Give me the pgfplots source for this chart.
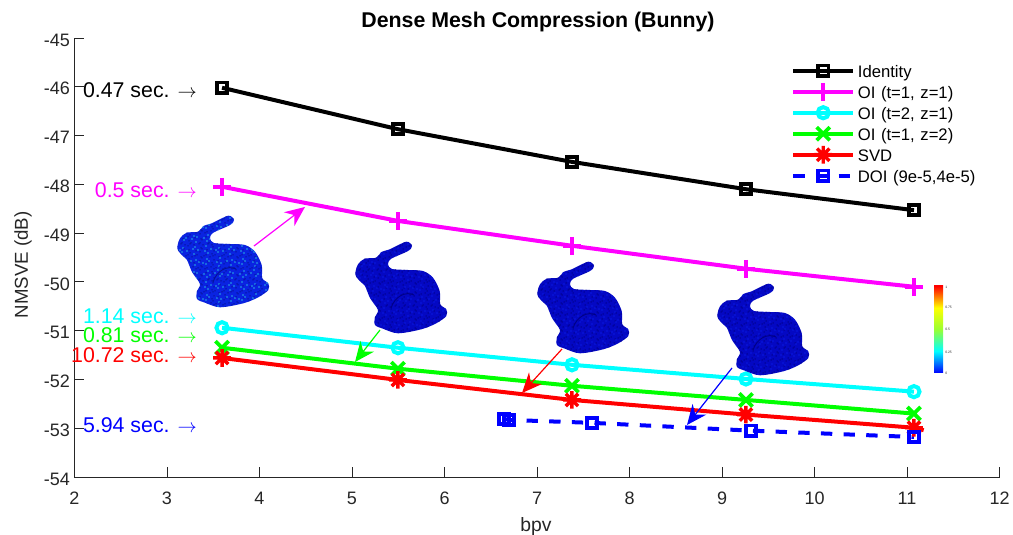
\documentclass[border=0pt]{standalone}
\usepackage{fontspec}
\setmainfont{Liberation Sans}
\usepackage{pgfplots}
\pgfplotsset{compat=1.18}
\usetikzlibrary{arrows.meta}

\definecolor{axisgrey}{rgb}{0.15,0.15,0.15}
\definecolor{mygreen}{rgb}{0,1,0}
\definecolor{mycyan}{rgb}{0,1,1}
\definecolor{mymagenta}{rgb}{1,0,1}
\definecolor{bunnyA}{RGB}{10,35,225}
\definecolor{darkA}{RGB}{6,18,150}
\definecolor{speckA}{RGB}{40,175,225}
\definecolor{bunnyB}{RGB}{4,8,195}
\definecolor{darkB}{RGB}{0,0,135}
\definecolor{speckB}{RGB}{10,25,225}

\pgfdeclareverticalshading{jetbar}{100bp}{
  color(0bp)=(blue); color(25bp)=(blue); color(37.5bp)=(cyan);
  color(50bp)=(green!50!yellow!80!white); color(62.5bp)=(yellow); color(75bp)=(red); color(100bp)=(red)}

% matlab style * marker
\pgfdeclareplotmark{star8}{%
  \pgfpathmoveto{\pgfqpoint{0pt}{\pgfplotmarksize}}\pgfpathlineto{\pgfqpoint{0pt}{-\pgfplotmarksize}}
  \pgfpathmoveto{\pgfqpoint{\pgfplotmarksize}{0pt}}\pgfpathlineto{\pgfqpoint{-\pgfplotmarksize}{0pt}}
  \pgfpathmoveto{\pgfqpoint{.7\pgfplotmarksize}{.7\pgfplotmarksize}}\pgfpathlineto{\pgfqpoint{-.7\pgfplotmarksize}{-.7\pgfplotmarksize}}
  \pgfpathmoveto{\pgfqpoint{.7\pgfplotmarksize}{-.7\pgfplotmarksize}}\pgfpathlineto{\pgfqpoint{-.7\pgfplotmarksize}{.7\pgfplotmarksize}}
  \pgfusepathqstroke}

% outline traced from the first bunny, in pixels
\newcommand{\bunnypath}{plot[smooth cycle,tension=.5] coordinates {
  (58.3,5.7) (64,10) (60,15) (43.3,22.7) (40,28.3) (44,33) (60,34) (75,35) (85,41.7)
  (91.7,55) (92.3,68.3) (98.3,73.3) (98.3,80) (88.3,87.3) (73.3,93.3) (50,97.3) (35,92.7)
  (27,89) (27,81) (30,74) (22,62) (17,50) (11.7,45) (7.3,38.3) (10,28.3)
  (16.7,22.7) (28.3,21.7) (33.3,16) (41.7,13.3)}}

% x, y of origin (page pixels), body, dark speckle, light speckle
\newcommand{\bunny}[5]{%
  \begin{scope}[shift={(#1,#2)}]
    \fill[#3] \bunnypath;
    \begin{scope}
      \clip \bunnypath;
      \foreach \i in {2,...,33}{\foreach \j in {1,...,33}{
        \pgfmathtruncatemacro{\sx}{\i*3+mod(\i*\i+7*\j,3)}
        \pgfmathtruncatemacro{\sy}{\j*3+mod(\j*\j+5*\i,3)}
        \pgfmathtruncatemacro{\pick}{mod(\i*\j+\i+2*\j,4)}
        \ifnum\pick=0 \fill[#5] (\sx,\sy) circle[radius=.85];\fi
        \ifnum\pick=2 \fill[#4] (\sx,\sy) circle[radius=.75];\fi
      }}
      \draw[#4,line width=.7pt] (43,72) .. controls (47,60) and (58,55) .. (66,59);
    \end{scope}
  \end{scope}}

\newcommand{\lgap}{\hspace*{4.5pt}}

\begin{document}
\begin{tikzpicture}
\path[use as bounding box] (-55.875pt,-43.5pt) rectangle (703.875pt,357.75pt);
\begin{axis}[
    at={(0pt,0pt)}, anchor=south west,
    scale only axis,
    width=693.75pt, height=329.25pt,
    xmin=2, xmax=12, ymin=-54, ymax=-45,
    axis x line=bottom, axis y line=left,
    axis line style={-,axisgrey,line width=.6pt},
    tick style={axisgrey,line width=.6pt},
    tick align=inside,
    major tick length=7.5pt,
    xtick={2,3,4,5,6,7,8,9,10,11,12},
    ytick={-54,-53,-52,-51,-50,-49,-48,-47,-46,-45},
    yticklabels={-54,-53,-52,-51,-50,-49,-48,-47,-46,-45},
    xticklabels={2,3,4,5,6,7,8,9,10,11,12},
    tick label style={font=\fontsize{13.5}{15}\selectfont,text=axisgrey},
    xticklabel style={yshift=-7.5pt},
    yticklabel style={yshift=-1.5pt},
    clip=false,
    legend style={draw=none,fill=none,
      font=\fontsize{12.5}{14}\selectfont,row sep=0pt,
      at={(rel axis cs:0.7724,0.953)},anchor=north west,
      nodes={inner sep=0pt,xshift=4.5pt,text height=11.9pt,text depth=3.85pt,text width=130pt,align=left}},
    legend cell align=left,
    legend image code/.code={
      \path[draw=none,fill=none] (0pt,0pt) rectangle (44pt,.1pt);
      \draw[overlay,yshift=1pt,mark repeat=2,mark phase=2,#1] plot coordinates {(0pt,0pt) (22.5pt,0pt) (45pt,0pt)};},
]
\addplot[black,line width=3pt,mark=square,mark size=3.8pt,mark options={line width=2.7pt}] coordinates {
  (3.595,-46.02) (5.497,-46.87) (7.378,-47.54) (9.259,-48.10) (11.075,-48.53)};
\addlegendentry{\lgap Identity}
\addplot[mymagenta,line width=3pt,mark=+,mark size=6.6pt,mark options={line width=3pt}] coordinates {
  (3.595,-48.05) (5.497,-48.75) (7.378,-49.26) (9.259,-49.73) (11.075,-50.10)};
\addlegendentry{\lgap OI (t=1, z=1)}
\addplot[mycyan,line width=3pt,mark=o,mark size=4.2pt,mark options={line width=3pt}] coordinates {
  (3.595,-50.94) (5.497,-51.35) (7.378,-51.70) (9.259,-51.99) (11.075,-52.25)};
\addlegendentry{\lgap OI (t=2, z=1)}
\addplot[mygreen,line width=3pt,mark=x,mark size=7pt,mark options={line width=2.8pt}] coordinates {
  (3.595,-51.35) (5.497,-51.78) (7.378,-52.13) (9.259,-52.42) (11.075,-52.70)};
\addlegendentry{\lgap OI (t=1, z=2)}
\addplot[red,line width=3pt,forget plot] coordinates {(11.075,-52.99) (11.18,-53.04)};
\addplot[red,line width=3pt,mark=star8,mark size=6.6pt,mark options={line width=2.6pt}] coordinates {
  (3.595,-51.56) (5.497,-52.01) (7.378,-52.42) (9.259,-52.72) (11.075,-52.99)};
\addlegendentry{\lgap SVD}
\addplot[blue,line width=3pt,dash pattern=on 8.5pt off 8.5pt,mark=square,mark size=3.8pt,mark options={solid,line width=2.7pt}] coordinates {
  (6.643,-52.81) (6.697,-52.83) (7.595,-52.89) (9.314,-53.05) (11.075,-53.18)};
\addlegendentry{\lgap DOI (9e-5,4e-5)}
\end{axis}

% annotations in page pixels
\begin{scope}[shift={(-55.875pt,357.75pt)},x=.75pt,y=-.75pt]
  \node[font=\bfseries\fontsize{16}{18}\selectfont,text=black] at (538,22) {Dense Mesh Compression (Bunny)};
  \node[font=\fontsize{14.5}{16}\selectfont,text=axisgrey] at (536,527) {bpv};
  \node[font=\fontsize{14}{16}\selectfont,text=axisgrey,rotate=90] at (23,265) {NMSVE (dB)};

  \bunny{170}{210}{bunnyA}{darkA}{speckA}
  \bunny{348}{236}{bunnyB}{darkB}{speckB}
  \bunny{530}{256}{bunnyB}{darkB}{speckB}
  \bunny{710}{278}{bunnyB}{darkB}{speckB}

  \foreach \ty/\col/\txt in {90/black/0.47,190/mymagenta/0.5,316/mycyan/1.14,335/mygreen/0.81,355/red/10.72,425/blue/5.94}{
    \node[anchor=east,inner sep=0pt,text=\col,font=\fontsize{16}{18}\selectfont] at (197,\ty) {\txt{} sec. {\fontsize{15}{17}\selectfont$\rightarrow$}};
  }

  \draw[mymagenta,line width=.9pt,-{Stealth[length=15pt,width=13pt,inset=5pt]}] (254,246) -- (305,207);
  \draw[mygreen,line width=.9pt,-{Stealth[length=15pt,width=13pt,inset=5pt]}] (380,330) -- (355,362);
  \draw[red,line width=.9pt,-{Stealth[length=15pt,width=13pt,inset=5pt]}] (562,349) -- (522,393);
  \draw[blue,line width=.9pt,-{Stealth[length=15pt,width=13pt,inset=5pt]}] (732,368) -- (687,425);

  \shade[shading=jetbar] (934,286) rectangle (943,373);
  \foreach \ly/\lt in {287/1,307/0.75,329/0.5,352/0.25,373/0}{
    \node[anchor=west,inner sep=0pt,font=\fontsize{2.5}{3}\selectfont,text=axisgrey] at (945,\ly) {\lt};
  }
\end{scope}
\end{tikzpicture}
\end{document}
